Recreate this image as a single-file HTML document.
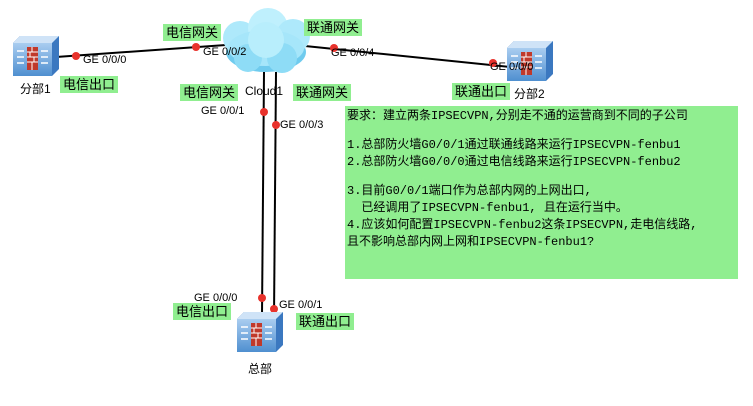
<!DOCTYPE html>
<html><head><meta charset="utf-8"><style>
body{margin:0;width:753px;height:406px;background:#fff;position:relative;overflow:hidden;font-family:"Liberation Sans","Noto Sans CJK SC",sans-serif;}
.a{position:absolute;white-space:nowrap;}
.g{position:absolute;background:#90ee90;font-size:13px;line-height:17px;padding:0 3px;white-space:nowrap;}
.ge{position:absolute;font-size:11px;white-space:nowrap;color:#000;}
.box{position:absolute;left:345px;top:106px;width:393px;height:173px;background:#90ee90;}
.t{position:absolute;left:2px;font-family:"Liberation Mono","Noto Sans CJK SC",monospace;font-size:12px;white-space:nowrap;}
</style></head><body>
<svg width="753" height="406" style="position:absolute;left:0;top:0">
<defs>
<linearGradient id="fw" x1="0" y1="0" x2="0" y2="1"><stop offset="0" stop-color="#a9cdf0"/><stop offset="1" stop-color="#4f8fd0"/></linearGradient>
<g id="f">
<path d="M0 7 L7 0 L46 0 L46 33 L39 40 L0 40Z" fill="#3b78c0"/>
<rect x="0" y="7" width="39" height="33" fill="url(#fw)"/>
<path d="M0 7 L7 0 L46 0 L39 7Z" fill="#cfe3f7"/>
<rect x="14" y="11" width="11" height="23" fill="#c0392b"/>
<path d="M14 16H25M14 21H25M14 26H25M19 11V16M17 16V21M21 21V26M19 26V34" stroke="#fff" stroke-width="1"/>
<path d="M4 15h7M4 21h7M4 27h7M28 15h7M28 21h7M28 27h7" stroke="#fff" stroke-width="1.5"/>
</g>
</defs>
<g stroke="#000" stroke-width="2" fill="none">
<line x1="56" y1="57" x2="226" y2="45"/>
<line x1="305" y1="46" x2="510" y2="67"/>
<line x1="264" y1="72" x2="262" y2="315"/>
<line x1="276" y1="72" x2="274" y2="318"/>
</g>
<g>
<ellipse cx="266" cy="52" rx="40" ry="20" fill="#6fcbee"/>
<circle cx="240" cy="38" r="17" fill="#aee9fb"/>
<circle cx="268" cy="28" r="20" fill="#bff0fd"/>
<circle cx="293" cy="36" r="17" fill="#aee9fb"/>
<ellipse cx="266" cy="48" rx="38" ry="18" fill="#a6e6fa"/>
<circle cx="248" cy="58" r="14" fill="#8edcf6"/>
<circle cx="282" cy="58" r="15" fill="#8edcf6"/>
<circle cx="266" cy="40" r="18" fill="#b8eefc"/>
</g>
<g fill="#e8322c">
<circle cx="76" cy="56" r="4"/><circle cx="196" cy="47" r="4"/>
<circle cx="334" cy="48" r="4"/><circle cx="493" cy="63" r="4"/>
<circle cx="264" cy="112" r="4"/><circle cx="276" cy="125" r="4"/>
<circle cx="262" cy="298" r="4"/><circle cx="274" cy="309" r="4"/>
</g>
<use href="#f" x="13" y="36"/>
<use href="#f" x="507" y="41"/>
<use href="#f" x="237" y="312"/>
</svg>
<div class="a" style="left:20px;top:80px;font-size:12px">分部1</div>
<div class="a" style="left:514px;top:85px;font-size:12px">分部2</div>
<div class="a" style="left:248px;top:360px;font-size:12px">总部</div>
<div class="a" style="left:245px;top:84px;font-size:12px">Cloud1</div>
<div class="g" style="left:163px;top:24px">电信网关</div>
<div class="g" style="left:304px;top:19px">联通网关</div>
<div class="g" style="left:60px;top:76px">电信出口</div>
<div class="g" style="left:180px;top:84px">电信网关</div>
<div class="g" style="left:293px;top:84px">联通网关</div>
<div class="g" style="left:452px;top:83px">联通出口</div>
<div class="g" style="left:173px;top:303px">电信出口</div>
<div class="g" style="left:296px;top:313px">联通出口</div>
<div class="ge" style="left:83px;top:54px">GE 0/0/0</div>
<div class="ge" style="left:203px;top:46px">GE 0/0/2</div>
<div class="ge" style="left:331px;top:47px">GE 0/0/4</div>
<div class="ge" style="left:490px;top:61px">GE 0/0/0</div>
<div class="ge" style="left:201px;top:105px">GE 0/0/1</div>
<div class="ge" style="left:280px;top:119px">GE 0/0/3</div>
<div class="ge" style="left:194px;top:292px">GE 0/0/0</div>
<div class="ge" style="left:279px;top:299px">GE 0/0/1</div>
<div class="box">
<div class="t" style="top:0px">要求：建立两条IPSECVPN,分别走不通的运营商到不同的子公司</div>
<div class="t" style="top:29px">1.总部防火墙G0/0/1通过联通线路来运行IPSECVPN-fenbu1</div>
<div class="t" style="top:46px">2.总部防火墙G0/0/0通过电信线路来运行IPSECVPN-fenbu2</div>
<div class="t" style="top:75px">3.目前G0/0/1端口作为总部内网的上网出口,</div>
<div class="t" style="top:92px">&nbsp;&nbsp;已经调用了IPSECVPN-fenbu1, 且在运行当中。</div>
<div class="t" style="top:109px">4.应该如何配置IPSECVPN-fenbu2这条IPSECVPN,走电信线路,</div>
<div class="t" style="top:126px">且不影响总部内网上网和IPSECVPN-fenbu1?</div>
</div>
</body></html>
